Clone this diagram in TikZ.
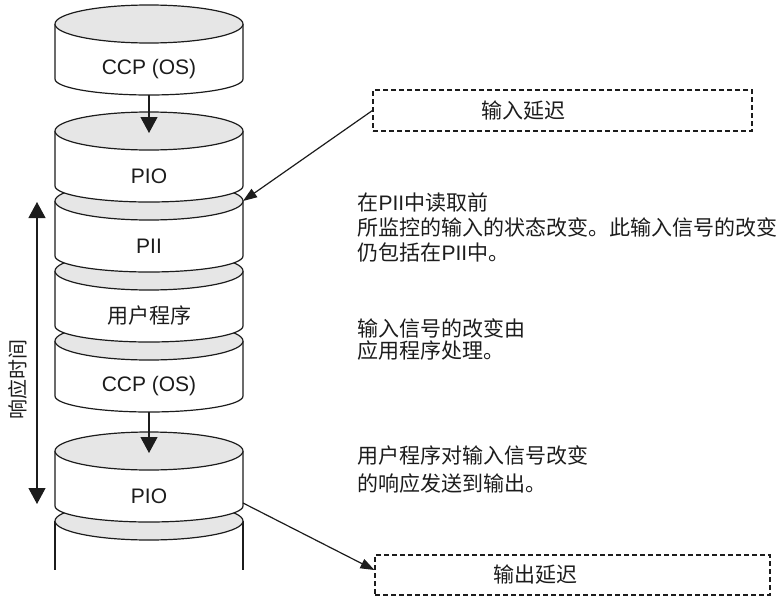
\documentclass[tikz,border=0pt]{standalone}
\usepackage{fontspec}
\setmainfont{Liberation Sans}
\newfontfamily\cjk{Noto Sans CJK SC}
\newfontfamily\lat{Liberation Sans}
\usetikzlibrary{arrows.meta}

\definecolor{drumgray}{HTML}{E6E6E6}
\definecolor{ink}{HTML}{1C1C1C}
\tikzset{
  drumlabel/.style={inner sep=0pt, text=ink},
  bigtip/.style={-{Triangle[length=16pt,width=17pt]}},
  thintip/.style={-{Triangle[length=14pt,width=10pt]}},
  delaybox/.style={draw=ink, line width=1.1pt, dash pattern=on 5pt off 3pt, inner sep=0pt},
  note/.style={anchor=north west, align=left, inner sep=0pt, text=ink}
}

\begin{document}
\begin{tikzpicture}[x=1pt, y=-1pt, line width=1.2pt, draw=ink,
    font=\fontsize{21}{25}\selectfont]
  \useasboundingbox (0,0) rectangle (782,597);

  % open drum at the bottom
  \fill[white] (55,521) rectangle (243,570);
  \draw (55,521) -- (55,570) (243,521) -- (243,570);
  \filldraw[fill=drumgray] (149,521) ellipse (94 and 19);

  % the stack, drawn from the bottom up
  \foreach \c/\lbl/\n in {451/PIO/F, 341/CCP (OS)/E, 271/{\cjk 用户程序}/D,
      201/PII/C, 131/PIO/B, 24/CCP (OS)/A} {
    \fill[white] (55,\c) -- (55,\c+55) arc (180:0:94 and 16) -- (243,\c) -- cycle;
    \draw (55,\c) -- (55,\c+55) arc (180:0:94 and 16) -- (243,\c);
    \filldraw[fill=drumgray] (149,\c) ellipse (94 and 19);
    \node[drumlabel] (\n) at (149,\c+45) {\lbl};
    \coordinate (\n-top) at (149,\c+2);
    \coordinate (\n-bot) at (149,\c+71);
    \coordinate (\n-ne) at (243,\c);
    \coordinate (\n-se) at (243,\c+52);
  }
  \draw[bigtip] (A-bot) -- (B-top);
  \draw[bigtip] (E-bot) -- (F-top);

  % response time
  \coordinate (rt-top) at (37,202);
  \coordinate (rt-bot) at (37,504);
  \draw[{Triangle[length=16pt,width=17pt]}-{Triangle[length=16pt,width=17pt]}] (rt-top) -- (rt-bot);
  \node[font=\cjk\fontsize{20}{24}\selectfont, text=ink, rotate=90] (rt) at (18,379) {响应时间};

  % delays
  \node[delaybox, minimum width=379pt, minimum height=41pt] (inbox) at (562.5,110.5) {};
  \node[font=\cjk\fontsize{21}{25}\selectfont, text=ink] (intext) at (523,111) {输入延迟};
  \node[delaybox, minimum width=395pt, minimum height=40pt] (outbox) at (572.5,575) {};
  \node[font=\cjk\fontsize{21}{25}\selectfont, text=ink] (outtext) at (535,575) {输出延迟};
  \draw[thintip] (inbox.west) -- (C-ne);
  \draw[thintip] (F-se) -- ([yshift=5pt]outbox.west);

  % notes
  \node[note, font=\cjk\fontsize{21}{25}\selectfont] (n1) at (357,192)
    {在{\lat PII}中读取前\\所监控的输入的状态改变。此输入信号的改变\\仍包括在{\lat PII}中。};
  \node[note, font=\cjk\fontsize{21}{22}\selectfont] (n2) at (357,318)
    {输入信号的改变由\\应用程序处理。};
  \node[note, font=\cjk\fontsize{21}{28}\selectfont] (n3) at (357,445)
    {用户程序对输入信号改变\\的响应发送到输出。};
\end{tikzpicture}
\end{document}
